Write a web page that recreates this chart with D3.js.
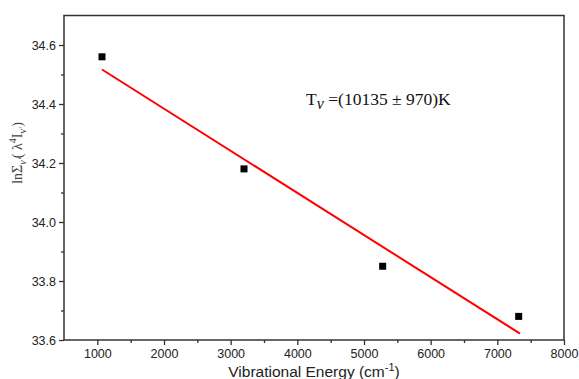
<!DOCTYPE html>
<html>
<head>
<meta charset="utf-8">
<script src="https://cdn.jsdelivr.net/npm/d3@7"></script>
<style>
  body { margin: 0; background: #fff; }
  svg { display: block; }
</style>
</head>
<body>
<figure id="chart" style="margin:0"></figure>
<script>
// measured points (vibrational energy in cm-1, ln value)
const energy = [1070, 3200, 5280, 7320];
const lnValue = [34.56, 34.18, 33.85, 33.68];
const xTicks = [1000, 2000, 3000, 4000, 5000, 6000, 7000, 8000];
const yTicks = [33.6, 33.8, 34.0, 34.2, 34.4, 34.6];

const width = 579, height = 379;
const margin = { top: 15.5, right: 15, bottom: 39, left: 64 };

const svg = d3.select("#chart")
  .append("svg")
  .attr("width", width)
  .attr("height", height);

const x = d3.scaleLinear()
  .domain([500, 8000])
  .range([margin.left, width - margin.right]);

const y = d3.scaleLinear()
  .domain([33.6, 34.7])
  .range([height - margin.bottom, margin.top]);

// least squares fit through the points
const mx = d3.mean(energy), my = d3.mean(lnValue);
let sxy = 0, sxx = 0;
energy.forEach((e, i) => {
  sxy += (e - mx) * (lnValue[i] - my);
  sxx += (e - mx) * (e - mx);
});
const slope = sxy / sxx;
const fit = e => my + slope * (e - mx);
const fitX = [d3.min(energy), d3.max(energy) + 20];

// frame
svg.append("rect")
  .attr("x", x(500))
  .attr("y", y(34.7))
  .attr("width", x(8000) - x(500))
  .attr("height", y(33.6) - y(34.7))
  .attr("fill", "none")
  .attr("stroke", "#333")
  .attr("stroke-width", 1.5);

// minor ticks
const xMinor = d3.range(1500, 8000, 1000);
const yMinor = d3.range(33.7, 34.7, 0.2);

const xAxis = svg.append("g")
  .attr("transform", "translate(0," + y(33.6) + ")");
xAxis.call(d3.axisBottom(x).tickValues(xTicks).tickSize(5).tickPadding(4).tickFormat(d3.format("d")));
xAxis.append("g").call(d3.axisBottom(x).tickValues(xMinor).tickSize(3).tickFormat(""));

const yAxis = svg.append("g")
  .attr("transform", "translate(" + x(500) + ",0)");
yAxis.call(d3.axisLeft(y).tickValues(yTicks).tickSize(5).tickPadding(3).tickFormat(d3.format(".1f")));
yAxis.append("g").call(d3.axisLeft(y).tickValues(yMinor).tickSize(3).tickFormat(""));

svg.selectAll(".domain").remove();
svg.selectAll(".tick line").attr("stroke", "#333").attr("stroke-width", 1.3);
svg.selectAll(".tick text")
  .attr("fill", "#222")
  .style("font-family", "'Liberation Sans', Arial, sans-serif")
  .style("font-size", "12.5px");

// fit line
svg.append("line")
  .attr("x1", x(fitX[0]))
  .attr("y1", y(fit(fitX[0])))
  .attr("x2", x(fitX[1]))
  .attr("y2", y(fit(fitX[1])))
  .attr("stroke", "#ff0000")
  .attr("stroke-width", 2);

// data points
svg.selectAll("rect.pt")
  .data(energy)
  .enter()
  .append("rect")
  .attr("class", "pt")
  .attr("x", d => x(d) - 3.5)
  .attr("y", (d, i) => y(lnValue[i]) - 3.5)
  .attr("width", 7)
  .attr("height", 7)
  .attr("fill", "#000");

// x title
const xt = svg.append("text")
  .attr("x", (x(500) + x(8000)) / 2)
  .attr("y", 377)
  .attr("text-anchor", "middle")
  .attr("fill", "#222")
  .style("font-family", "'Liberation Sans', Arial, sans-serif")
  .style("font-size", "15.5px");
xt.append("tspan").text("Vibrational Energy (cm");
xt.append("tspan").attr("dy", -6).style("font-size", "11px").text("-1");
xt.append("tspan").attr("dy", 6).text(")");

// y title
const yt = svg.append("text")
  .attr("transform", "translate(22,153) rotate(-90)")
  .attr("text-anchor", "middle")
  .attr("fill", "#444")
  .style("font-family", "'Liberation Serif', 'Times New Roman', serif")
  .style("font-size", "14px");
yt.append("tspan").text("lnΣ");
yt.append("tspan").attr("dy", 4).style("font-size", "10px").style("font-style", "italic").text("v'");
yt.append("tspan").attr("dy", -4).text("( λ");
yt.append("tspan").attr("dy", -6).style("font-size", "10px").text("4");
yt.append("tspan").attr("dy", 6).text("I");
yt.append("tspan").attr("dy", 4).style("font-size", "10px").text("v'");
yt.append("tspan").attr("dy", -4).text(")");

// annotation
const ann = svg.append("text")
  .attr("x", 306)
  .attr("y", 105)
  .attr("fill", "#111")
  .style("font-family", "'Liberation Serif', 'Times New Roman', serif")
  .style("font-size", "17.5px");
ann.append("tspan").text("T");
ann.append("tspan").attr("dy", 4).style("font-style", "italic").style("font-size", "16px").text("v");
ann.append("tspan").attr("dy", -4).text(" =(10135 ± 970)K");
</script>
</body>
</html>
